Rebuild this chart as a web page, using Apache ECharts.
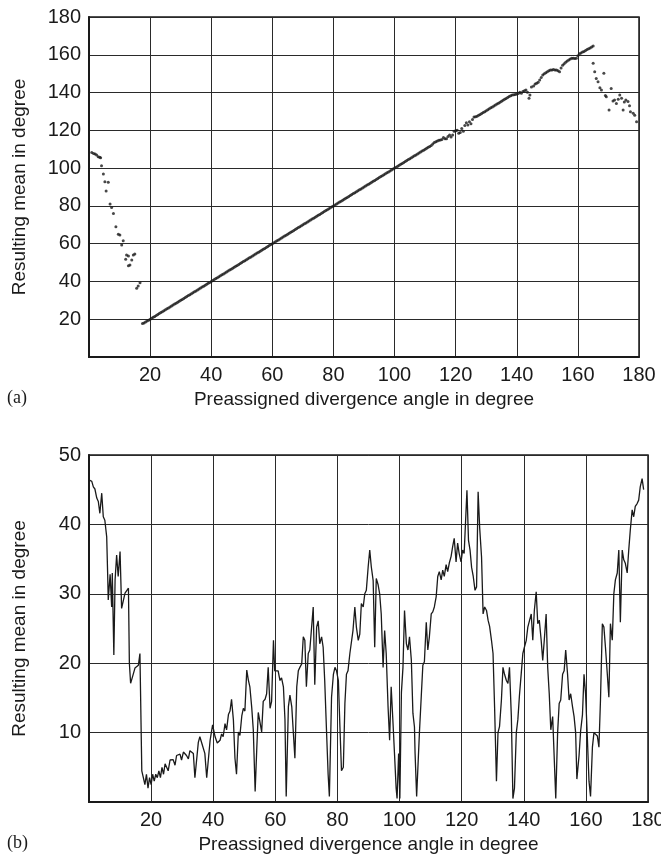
<!DOCTYPE html>
<html><head><meta charset="utf-8">
<script src="https://cdn.jsdelivr.net/npm/echarts@6/dist/echarts.min.js"></script>
<style>html,body{margin:0;padding:0;background:#fff}#c{width:661px;height:862px}</style>
</head><body><div id="c"></div>
<script>
// ---- Panel (a): scatter of resulting mean vs preassigned angle ----
const topLeftX = [0.9,1.5,2.0,2.5,3.0,3.5,3.8,4.1,4.7,5.2,5.6,6.3,6.9,7.4,8.0,8.8,9.6,10.1,10.7,11.2,12.0,12.3,12.9,12.9,13.4,14.0,14.5,15.0,15.6,16.1,16.7];
const topLeftY = [108.2,107.8,107.5,107,106,105.8,105.5,101.3,96.9,92.8,87.9,92.5,81,79.2,76,69,65,64.6,59.3,61.6,51.7,54,53.5,48.3,48.7,51.4,54,54.5,36.4,37.6,39.3];
const topMidX = [17.5,18,18.5,19,19.5,20,20.5,21,21.5,22,22.5,23,23.5,24,24.5,25,25.5,26,26.5,27,27.5,28,28.5,29,29.5,30,30.5,31,31.5,32,32.5,33,33.5,34,34.5,35,35.5,36,36.5,37,37.5,38,38.5,39,39.5,40,40.5,41,41.5,42,42.5,43,43.5,44,44.5,45,45.5,46,46.5,47,47.5,48,48.5,49,49.5,50,50.5,51,51.5,52,52.5,53,53.5,54,54.5,55,55.5,56,56.5,57,57.5,58,58.5,59,59.5,60,60.5,61,61.5,62,62.5,63,63.5,64,64.5,65,65.5,66,66.5,67,67.5,68,68.5,69,69.5,70,70.5,71,71.5,72,72.5,73,73.5,74,74.5,75,75.5,76,76.5,77,77.5,78,78.5,79,79.5,80,80.5,81,81.5,82,82.5,83,83.5,84,84.5,85,85.5,86,86.5,87,87.5,88,88.5,89,89.5,90,90.5,91,91.5,92,92.5,93,93.5,94,94.5,95,95.5,96,96.5,97,97.5,98,98.5,99,99.5,100,100.5,101,101.5,102,102.5,103,103.5,104,104.5,105,105.5,106,106.5,107,107.5,108,108.5,109,109.5,110,110.5,111,111.5,112];
const topMidY = [17.8,18,18.5,19,19.5,20,20.5,21,21.5,22,22.5,23,23.5,24,24.5,25,25.5,26,26.5,27,27.5,28,28.5,29,29.5,30,30.5,31,31.5,32,32.5,33,33.5,34,34.5,35,35.5,36,36.5,37,37.5,38,38.5,39,39.5,40,40.5,41,41.5,42,42.5,43,43.5,44,44.5,45,45.5,46,46.5,47,47.5,48,48.5,49,49.5,50,50.5,51,51.5,52,52.5,53,53.5,54,54.5,55,55.5,56,56.5,57,57.5,58,58.5,59,59.5,60,60.5,61,61.5,62,62.5,63,63.5,64,64.5,65,65.5,66,66.5,67,67.5,68,68.5,69,69.5,70,70.5,71,71.5,72,72.5,73,73.5,74,74.5,75,75.5,76,76.5,77,77.5,78,78.5,79,79.5,80,80.5,81,81.5,82,82.5,83,83.5,84,84.5,85,85.5,86,86.5,87,87.5,88,88.5,89,89.5,90,90.5,91,91.5,92,92.5,93,93.5,94,94.5,95,95.5,96,96.5,97,97.5,98,98.5,99,99.5,100,100.5,101,101.5,102,102.5,103,103.5,104,104.5,105,105.5,106,106.5,107,107.5,108,108.5,109,109.5,110,110.5,111,111.5,112];
const topUpperX = [112.5,113,113.5,114,114.5,115,115.5,116,116.5,117,117.5,118,118.5,119,119.5,120,120.5,121,121.5,122,122.5,123,123.5,124,124.5,125,125.5,126,126.5,127,127.5,128,128.5,129,129.5,130,130.5,131,131.5,132,132.5,133,133.5,134,134.5,135,135.5,136,136.5,137,137.5,138,138.5,139,139.5,140,140.5,141,141.5,142,142.5,143,143.5,144,144.3,144.8,145.5,146,146.5,147,147.5,148,148.5,149,149.5,150,150.5,151,151.5,152,152.5,153,153.5,154,154.5,155,155.5,156,156.5,157,157.5,158,158.5,159,159.5,160,160.5,161,161.5,162,162.5,163,163.5,164,164.5,165];
const topUpperY = [112.8,113.5,114,114.3,114.8,114.9,115.2,116.2,115.5,115.6,116.8,117.5,116.5,117.5,119.5,119.8,120,118.5,118.8,121,119.5,122.5,124,122.8,124.5,123.5,125.8,127,127.2,127.5,128,128.4,128.9,129.4,129.9,130.4,130.9,131.4,131.9,132.4,132.9,133.4,133.9,134.4,134.9,135.4,135.9,136.4,136.9,137.4,137.9,138.3,138.7,138.8,139,139.2,139.5,140.2,139.6,140.5,141,141.4,140.2,137,138.7,143,143.5,144.5,144.9,145.5,146.6,148,149.3,150,150.5,151,151.6,152,152,152.2,152,151.9,151.5,151,153,154.5,155.3,156,156.7,157.3,157.8,158.1,158.2,158,158.1,159.5,160.5,161,161.5,161.8,162.3,162.8,163.2,163.6,164.1,164.6];
const topRightX = [165,165.5,166,166.6,167.2,167.7,168.5,169,169.3,170.2,170.9,171.5,172,172.6,173.2,173.7,174.3,174.8,175.2,175.7,176.4,176.9,177.2,178.1,178.6,179.2];
const topRightY = [155.5,151,147.5,145.7,142.5,141.3,150.2,138.5,137.8,130.8,142.2,135.5,136,134.2,136.5,138.7,137,130.8,135,136,135.2,133,129.9,129,128,124.6];

// ---- Panel (b): line of resulting value vs preassigned angle ----
const botX = [0.1,0.9,1.4,1.9,2.5,3.0,3.5,4.1,4.6,5.1,5.7,6.0,6.2,6.8,7.3,7.5,8.0,8.4,8.9,9.4,10.0,10.5,11.0,11.6,12.1,12.7,13.0,13.4,14.3,14.8,15.9,16.4,17.0,17.5,18.0,18.5,19.0,19.5,20.0,20.5,21.0,21.5,22.0,22.5,23.0,23.5,24.0,24.5,25.0,25.5,26.1,27.1,27.7,28.2,29.3,29.8,30.4,31.4,32.0,32.5,33.6,34.1,35.2,35.7,36.3,37.3,37.9,39.0,39.8,40.6,41.3,42.2,42.7,43.2,43.8,44.3,44.9,45.4,45.9,46.5,47.0,47.5,48.1,48.6,49.2,49.7,50.2,50.8,51.3,51.8,52.4,52.9,53.5,54.0,54.5,55.1,55.6,56.1,56.7,57.2,57.7,58.3,58.8,59.4,59.8,60.4,60.9,61.5,62.0,62.6,63.1,63.5,64.2,64.7,65.3,65.8,66.3,66.9,67.4,67.9,68.5,69.0,69.5,70.0,70.6,71.1,71.6,72.2,72.7,73.3,73.8,74.3,74.9,75.4,75.9,76.5,77.0,77.4,78.1,78.7,79.2,79.7,80.3,80.8,81.3,81.9,82.4,82.9,83.4,84.0,84.5,85.0,85.6,86.1,86.7,87.2,87.7,88.3,88.8,89.3,89.9,90.4,90.9,91.5,92.0,92.5,93.1,93.6,94.1,94.7,95.2,95.7,96.3,96.8,97.3,97.9,98.4,98.9,99.2,99.7,100.1,100.6,101.1,101.6,102.2,102.7,103.2,103.8,104.3,104.8,105.0,105.5,106.4,107.0,107.5,108.0,108.6,109.1,109.6,110.2,110.7,111.2,111.8,112.3,112.8,113.4,113.9,114.4,115.0,115.5,116.0,116.6,117.1,117.6,118.2,118.7,119.2,119.8,120.3,120.8,121.7,122.2,122.7,123.2,123.7,124.3,124.8,125.3,125.8,126.4,126.9,127.4,128.0,128.5,129.0,129.6,130.1,130.6,131.2,131.7,132.2,132.8,133.3,133.8,134.4,134.9,135.4,136.0,136.5,137.0,137.6,138.1,138.6,139.2,139.7,140.2,140.8,141.3,141.8,142.4,142.9,143.4,144.0,144.5,145.0,145.6,146.1,146.6,147.2,147.7,148.2,148.7,149.3,149.8,150.3,150.9,151.4,151.9,152.5,153.0,153.5,154.1,154.6,155.1,155.7,156.2,156.7,157.1,157.8,158.3,158.9,159.4,159.9,160.5,161.0,161.5,162.1,162.6,163.1,163.7,164.2,164.7,165.3,165.8,166.3,166.9,167.4,167.9,168.5,169.0,169.5,170.1,170.6,171.1,171.7,172.2,172.7,173.3,173.8,174.3,174.9,175.4,175.9,176.5,177.0,177.5,178.1,178.6];
const botY = [46.4,46.2,45.4,45.1,43.8,43.3,41.6,44.5,41.1,40.6,38.2,33,29.1,32.8,28.1,33,21.2,32,35.6,32.5,36.1,27.9,28.9,30.1,30,30.8,20,17.1,18.5,19.3,19.7,21.4,4.5,3.5,2.5,4,2,3.5,2.5,4,3,4,3.5,4.5,3.5,5,4,5.5,5.3,4.5,6.05,6.1,5.3,6.7,6.9,6.05,7.2,6.7,6.2,7.4,7,3.5,8.6,9.4,8.5,7,3.5,8.9,11.1,9.4,8.5,8.9,9.8,9.4,11.3,10.4,12.6,13.1,14.8,11.8,6.3,4,10.1,9.6,12.4,13.5,13.1,19,17.6,16.6,13.6,10.4,1.5,7.4,12.9,13.1,10.1,14.5,14.8,15.6,19.4,13.5,14.5,23.3,18.9,18.9,18.9,17.5,17.9,16.6,11.9,0.8,13.7,15.4,13.7,10,6.3,16.6,18.9,19.4,19.9,23.8,23.3,16.6,21.4,21.9,22.1,28.1,16.9,25.2,26.1,22.8,23.8,22.3,17.5,10,4,0.8,15.1,18.4,19.4,18.9,17.5,10.8,4.5,5,14.2,18.4,18.9,21.4,21.4,24.7,28.1,25.2,23.3,24.2,28.6,28.1,30,30.5,33.9,36.3,33.9,31.9,22.3,32.2,31.3,30,27.1,19.4,24.7,21.4,13.7,8.9,16.6,11.3,6.7,2,0.5,7,0.5,15.8,19.4,27.6,22.8,21.9,23.8,20.4,12.8,10.8,7,0.8,10,15.3,19.7,20.2,25.9,21.9,23.8,27.1,27.4,28.1,29.6,32.5,33.2,32,33.4,32.5,34.2,33.2,34.4,35.4,36.8,38,34.6,37.3,35.8,34.6,36.3,35.8,44.9,37.7,36.3,33.8,32.6,30.5,31,44.7,39.5,35.3,27.1,28.1,27.6,26.2,25.3,23.3,21.4,13.7,3,10,10.9,14.7,19.4,18.4,17.5,17.1,19.4,12.3,0.5,2,10,11.9,15.3,18.6,21.4,22.3,23.3,25.2,25.2,27.1,23.3,27.6,30.3,25.7,26.2,23.3,20.4,23.3,27.1,19.4,15.6,10.4,12.3,12.3,0.5,10,14.2,14.7,18.4,18.9,21.9,18.4,14.7,15.6,13.7,12.3,10,3.3,6.7,10.2,12.6,18.4,15.6,8.9,3,0.8,7.9,10,10,9.5,7.9,14.7,25.7,25.2,22.3,18.4,15.1,25.7,23.3,30,32,33,36.3,25.9,36.3,34.9,34.4,33,36.3,39.2,42.1,41.1,42.6,43,43.5,45.4,46.6,45];

const xTicksTop = [20,40,60,80,100,120,140,160,180];
const yTicksTop = [20,40,60,80,100,120,140,160,180];
const yTicksBot = [10,20,30,40,50];

const zip = (xs, ys) => xs.map((x, i) => [x, ys[i]]);
const topPts = zip(topLeftX, topLeftY).concat(zip(topMidX, topMidY), zip(topUpperX, topUpperY), zip(topRightX, topRightY));
const botPts = zip(botX, botY);

const FONT = 'Liberation Sans, Arial, Helvetica, sans-serif';
const INK = '#1a1a1a';
const lbl = (ticks) => ({
  color: INK, fontFamily: FONT, fontSize: 20, margin: 8,
  formatter: v => ticks.indexOf(v) >= 0 ? String(v) : ''
});
const axisCommon = {
  axisLine: { show: true, lineStyle: { color: INK, width: 2 } },
  axisTick: { show: false },
  splitLine: { show: true, lineStyle: { color: '#2a2a2a', width: 1 } },
  nameTextStyle: { color: INK, fontFamily: FONT, fontSize: 19 }
};

const chart = echarts.init(document.getElementById('c'), null, { renderer: 'canvas' });
chart.setOption({
  animation: false,
  backgroundColor: '#fff',
  grid: [
    { left: 89, top: 17, width: 550, height: 340, show: true, borderColor: INK, borderWidth: 1.5, outerBoundsMode: 'none', containLabel: false },
    { left: 89, top: 455, width: 559, height: 347, show: true, borderColor: INK, borderWidth: 1.5, outerBoundsMode: 'none', containLabel: false }
  ],
  xAxis: [
    Object.assign({}, axisCommon, { gridIndex: 0, type: 'value', min: 0, max: 180, interval: 20,
      axisLabel: lbl(xTicksTop), name: 'Preassigned divergence angle in degree', nameLocation: 'middle', nameGap: 33 }),
    Object.assign({}, axisCommon, { gridIndex: 1, type: 'value', min: 0, max: 180, interval: 20,
      axisLabel: lbl(xTicksTop), name: 'Preassigned divergence angle in degree', nameLocation: 'middle', nameGap: 33 })
  ],
  yAxis: [
    Object.assign({}, axisCommon, { gridIndex: 0, type: 'value', min: 0, max: 180, interval: 20,
      axisLabel: lbl(yTicksTop), name: 'Resulting mean in degree', nameLocation: 'middle', nameGap: 60 }),
    Object.assign({}, axisCommon, { gridIndex: 1, type: 'value', min: 0, max: 50, interval: 10,
      axisLabel: lbl(yTicksBot), name: 'Resulting mean in degree', nameLocation: 'middle', nameGap: 60 })
  ],
  graphic: [
    { type: 'text', left: 7, top: 389, style: { text: '(a)', fontFamily: 'Liberation Serif, Times New Roman, serif', fontSize: 18, fill: INK } },
    { type: 'text', left: 7, top: 834, style: { text: '(b)', fontFamily: 'Liberation Serif, Times New Roman, serif', fontSize: 18, fill: INK } }
  ],
  series: [
    { type: 'scatter', xAxisIndex: 0, yAxisIndex: 0, data: topPts, symbol: 'circle', symbolSize: 3,
      itemStyle: { color: '#1a1a1a' }, silent: true },
    { type: 'line', xAxisIndex: 1, yAxisIndex: 1, data: botPts, showSymbol: false, symbol: 'none',
      lineStyle: { color: '#1a1a1a', width: 1.3 }, silent: true }
  ]
});
</script>
</body></html>
